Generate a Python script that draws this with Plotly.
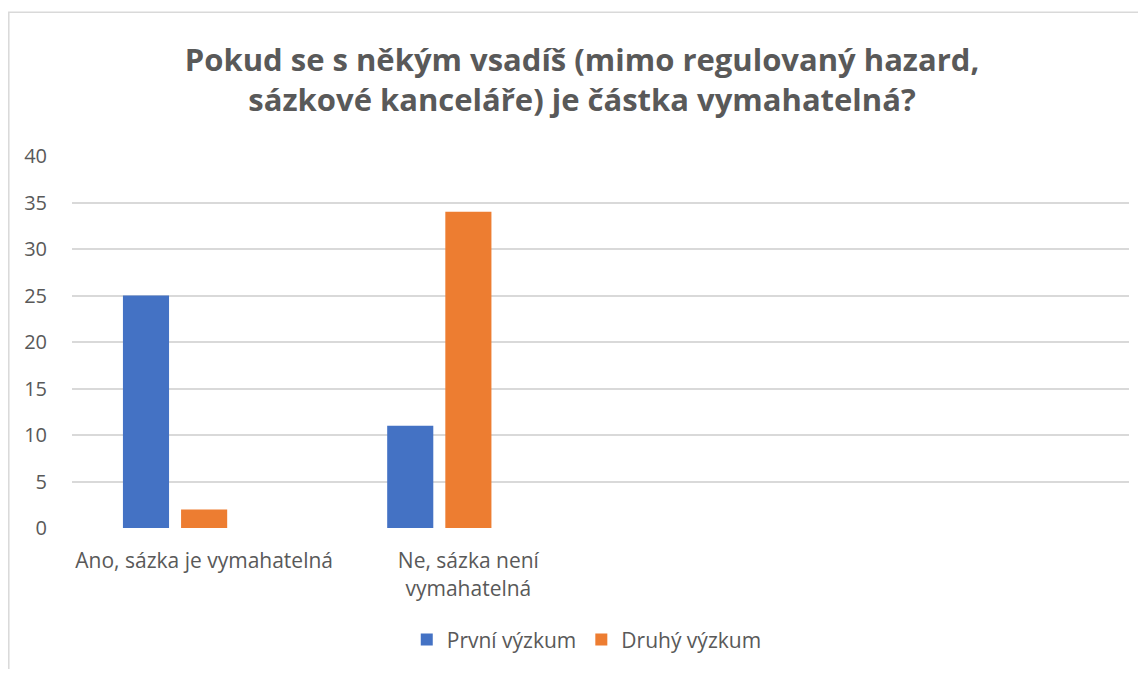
import plotly.graph_objects as go

categories = ["Ano, sázka je vymahatelná", "Ne, sázka není<br>vymahatelná"]
all_slots = ["Ano, sázka je vymahatelná", "Ne, sázka není<br>vymahatelná", " ", "  "]
series_names = ["První výzkum", "Druhý výzkum"]
prvni = [25, 11]
druhy = [2, 34]
colors = ["#4472C4", "#ED7D31"]
title_text = "Pokud se s někým vsadíš (mimo regulovaný hazard,<br>sázkové kanceláře) je částka vymahatelná?"
y_ticks = [0, 5, 10, 15, 20, 25, 30, 35, 40]

FONT = "'Open Sans', Lato, sans-serif"
GRAY = "#595959"

fig = go.Figure()
for name, vals, col in zip(series_names, [prvni, druhy], colors):
    fig.add_trace(go.Bar(x=categories, y=vals, name=name, marker=dict(color=col, line=dict(width=0))))
# empty third series (keeps Excel's three-slot grouping)
fig.add_trace(go.Bar(x=categories, y=[None, None], name="", showlegend=False, marker=dict(color="#A5A5A5")))

fig.update_layout(
    width=1130, height=661,
    margin=dict(l=64, r=9, t=148, b=138),
    paper_bgcolor="white", plot_bgcolor="white",
    barmode="group", bargap=0.34, bargroupgap=0.207,
    title=dict(text=title_text, x=0.508, xanchor="center", y=0.905, yanchor="middle",
               font=dict(family=FONT, size=31, color=GRAY, weight="bold")),
    font=dict(family=FONT, size=21, color=GRAY),
    legend=dict(orientation="h", x=0.487, xanchor="center", y=-0.301, yanchor="middle",
                font=dict(family=FONT, size=21, color=GRAY), itemwidth=30, traceorder="normal"),
    xaxis=dict(type="category", categoryorder="array", categoryarray=all_slots,
               range=[-0.5, 3.5], showgrid=False, zeroline=False, showline=False,
               ticks="outside", ticklen=14, tickcolor="rgba(0,0,0,0)",
               tickfont=dict(family=FONT, size=21, color=GRAY)),
    yaxis=dict(range=[0, 40], tickvals=y_ticks, showgrid=True, gridcolor="#D9D9D9", gridwidth=1.5,
               zeroline=False, showline=False, ticks="outside", ticklen=20, tickcolor="rgba(0,0,0,0)",
               tickfont=dict(family=FONT, size=20, color=GRAY)),
    shapes=[dict(type="rect", xref="paper", yref="paper", x0=-0.0598, x1=1.5, y0=-1.0, y1=1.3867,
                 line=dict(color="#D9D9D9", width=1.5), fillcolor="rgba(0,0,0,0)", layer="below")],
)

fig.write_html("out.html")
